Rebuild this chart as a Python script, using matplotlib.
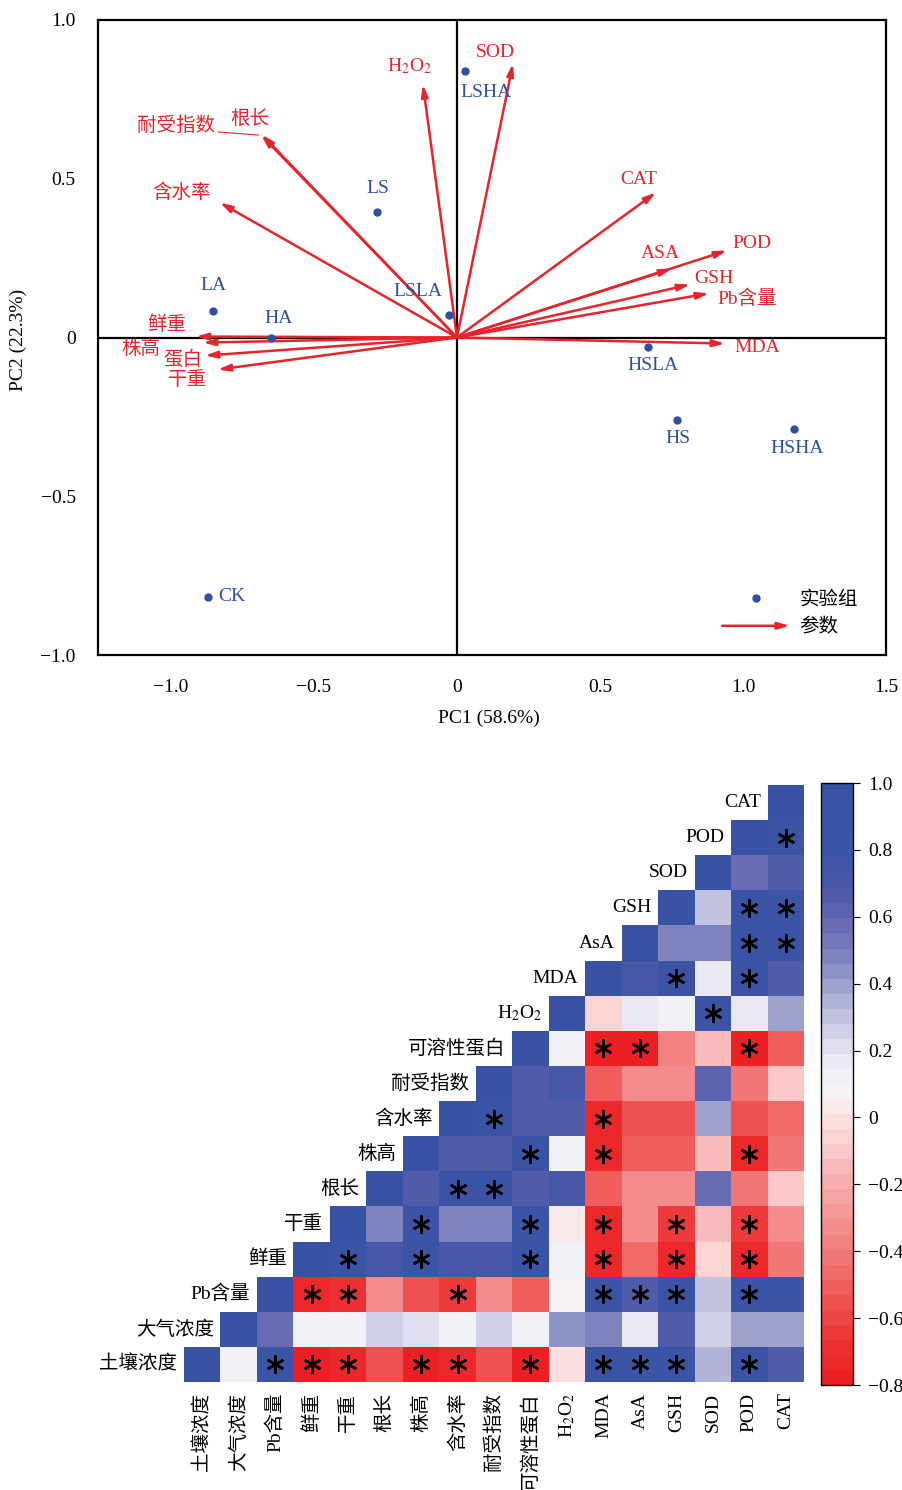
import numpy as np
import numpy.ma as ma
import matplotlib
matplotlib.use('Agg')
import matplotlib.pyplot as plt
from matplotlib.colors import LinearSegmentedColormap

plt.rcParams['font.family'] = ['Liberation Serif', 'Noto Sans CJK SC']
plt.rcParams['mathtext.fontset'] = 'stix'
plt.rcParams['axes.unicode_minus'] = True

# ---------------- PCA data ----------------
groups = ['LSHA', 'LS', 'LA', 'HA', 'LSLA', 'HSLA', 'HS', 'HSHA', 'CK']
pc1_scores = [0.028, -0.280, -0.853, -0.650, -0.028, 0.668, 0.769, 1.180, -0.871]
pc2_scores = [0.838, 0.394, 0.085, -0.003, 0.072, -0.031, -0.261, -0.287, -0.816]

params = ['H$_2$O$_2$', 'SOD', '根长', '耐受指数', '含水率', '鲜重', '株高', '蛋白', '干重',
          'CAT', 'POD', 'ASA', 'GSH', 'Pb含量', 'MDA']
pc1_loadings = [-0.119, 0.196, -0.682, -0.684, -0.829, -0.913, -0.888, -0.881, -0.836,
                0.696, 0.944, 0.752, 0.815, 0.881, 0.937]
pc2_loadings = [0.797, 0.863, 0.639, 0.637, 0.425, 0.003, -0.016, -0.057, -0.101,
                0.457, 0.274, 0.217, 0.167, 0.139, -0.019]

pc1_label = 'PC1 (58.6%)'
pc2_label = 'PC2 (22.3%)'

# ---------------- correlation data ----------------
hm_vars = ['土壤浓度', '大气浓度', 'Pb含量', '鲜重', '干重', '根长', '株高', '含水率', '耐受指数',
           '可溶性蛋白', 'H$_2$O$_2$', 'MDA', 'AsA', 'GSH', 'SOD', 'POD', 'CAT']
r_soil = [1, 0.10, 0.85, -0.80, -0.75, -0.55, -0.80, -0.72, -0.55, -0.82, 0.00, 0.88, 0.82, 0.78, 0.33, 0.90, 0.68]
r_air = [1, 0.55, 0.10, 0.10, 0.25, 0.20, 0.10, 0.25, 0.10, 0.42, 0.50, 0.18, 0.65, 0.27, 0.40, 0.40]
r_pb = [1, -0.72, -0.68, -0.35, -0.55, -0.65, -0.35, -0.50, 0.08, 0.90, 0.65, 0.90, 0.30, 0.90, 0.80]
r_fw = [1, 0.95, 0.70, 0.85, 0.70, 0.70, 0.85, 0.10, -0.75, -0.45, -0.72, -0.08, -0.72, -0.40]
r_dw = [1, 0.50, 0.85, 0.50, 0.50, 0.85, 0.02, -0.72, -0.35, -0.65, -0.15, -0.65, -0.35]
r_root = [1, 0.68, 0.90, 0.90, 0.65, 0.70, -0.50, -0.35, -0.35, 0.58, -0.42, -0.10]
r_height = [1, 0.65, 0.65, 0.85, 0.12, -0.75, -0.50, -0.50, -0.15, -0.72, -0.40]
r_water = [1, 0.90, 0.65, 0.65, -0.72, -0.55, -0.55, 0.40, -0.55, -0.45]
r_tol = [1, 0.65, 0.70, -0.50, -0.35, -0.35, 0.60, -0.42, -0.10]
r_prot = [1, 0.10, -0.78, -0.78, -0.38, -0.15, -0.78, -0.50]
r_h2o2 = [1, -0.08, 0.18, 0.10, 0.80, 0.18, 0.38]
r_mda = [1, 0.70, 0.88, 0.18, 0.88, 0.65]
r_asa = [1, 0.50, 0.50, 0.90, 0.88]
r_gsh = [1, 0.30, 0.88, 0.85]
r_sod = [1, 0.55, 0.68]
r_pod = [1, 0.90]
r_cat = [1]
corr_rows = [r_soil, r_air, r_pb, r_fw, r_dw, r_root, r_height, r_water, r_tol,
             r_prot, r_h2o2, r_mda, r_asa, r_gsh, r_sod, r_pod, r_cat]

# significant pairs (row index, column index)
sig_pairs = [(0, 2), (0, 3), (0, 4), (0, 6), (0, 7), (0, 9), (0, 11), (0, 12), (0, 13), (0, 15),
             (2, 3), (2, 4), (2, 7), (2, 11), (2, 12), (2, 13), (2, 15),
             (3, 4), (3, 6), (3, 9), (3, 11), (3, 13), (3, 15),
             (4, 6), (4, 9), (4, 11), (4, 13), (4, 15),
             (5, 7), (5, 8),
             (6, 9), (6, 11), (6, 15),
             (7, 8), (7, 11),
             (9, 11), (9, 12), (9, 15),
             (10, 14),
             (11, 13), (11, 15),
             (12, 15), (12, 16),
             (13, 15), (13, 16),
             (15, 16)]

cbar_ticks = [1.0, 0.8, 0.6, 0.4, 0.2, 0.0, -0.2, -0.4, -0.6, -0.8]

# ---------------- styles / layout ----------------
RED = '#E8232A'
BLUE = '#2F4FA2'
FS = 14
W, H = 903, 1490

# label offsets in pixels (dx, dy) relative to arrow tips / points
param_off = {'H$_2$O$_2$': (-13, 18), 'SOD': (-18, 11), '根长': (-12, 16), '耐受指数': (-85, 9),
             '含水率': (-38, 10), '鲜重': (-29, 12), '株高': (-62, -6), '蛋白': (-22, -4),
             '干重': (-30, -10), 'CAT': (-17, 13), 'POD': (25, 7), 'ASA': (-12, 15),
             'GSH': (24, 6), 'Pb含量': (38, -5), 'MDA': (32, -4)}
group_off = {'LSHA': (21, -21), 'LS': (1, 24), 'LA': (0, 25), 'HA': (8, 20), 'LSLA': (-31, 23),
             'HSLA': (5, -18), 'HS': (1, -18), 'HSHA': (3, -20), 'CK': (10, 0)}

fig = plt.figure(figsize=(W / 100, H / 100), dpi=100)

# ================= PCA biplot =================
ax = fig.add_axes([98 / W, 1 - 655 / H, (886 - 98) / W, (655 - 20) / H])
ax.set_xlim(-1.255, 1.5)
ax.set_ylim(-1.0, 1.0)
ax.axhline(0, color='black', lw=1.6, zorder=1)
ax.axvline(0, color='black', lw=1.6, zorder=1)
for s in ax.spines.values():
    s.set_linewidth(1.6)

for name, x, y in zip(params, pc1_loadings, pc2_loadings):
    ax.annotate('', xy=(x, y), xytext=(0, 0),
                arrowprops=dict(arrowstyle='-|>,head_length=0.7,head_width=0.2',
                                color=RED, lw=1.8, shrinkA=0, shrinkB=0), zorder=3)
    dx, dy = param_off[name]
    if name == '耐受指数':
        ax.annotate(name, xy=(x, y), xytext=(dx, dy), textcoords='offset pixels',
                    ha='center', va='center', color=RED, fontsize=FS,
                    arrowprops=dict(arrowstyle='-', color=RED, lw=0.8, shrinkA=0, shrinkB=2,
                                    relpos=(1.0, 0.2)))
    else:
        ax.annotate(name, xy=(x, y), xytext=(dx, dy), textcoords='offset pixels',
                    ha='center', va='center', color=RED, fontsize=FS)

ax.scatter(pc1_scores, pc2_scores, s=36, color=BLUE, zorder=4, linewidths=0)
for g, x, y in zip(groups, pc1_scores, pc2_scores):
    dx, dy = group_off[g]
    ax.annotate(g, xy=(x, y), xytext=(dx, dy), textcoords='offset pixels',
                ha='left' if g == 'CK' else 'center', va='center', color=BLUE, fontsize=FS,
                zorder=5)

ax.set_xticks([-1.0, -0.5, 0, 0.5, 1.0, 1.5])
ax.set_xticklabels(['\u22121.0', '\u22120.5', '0', '0.5', '1.0', '1.5'])
ax.set_yticks([-1.0, -0.5, 0, 0.5, 1.0])
ax.set_yticklabels(['\u22121.0', '\u22120.5', '0', '0.5', '1.0'])
ax.tick_params(length=0, labelsize=FS)
ax.tick_params(axis='x', pad=17)
ax.tick_params(axis='y', pad=16)

# legend
ax.scatter([0.835], [0.09], transform=ax.transAxes, s=36, color=BLUE, linewidths=0, clip_on=False)
ax.text(0.89, 0.087, '实验组', transform=ax.transAxes, ha='left', va='center', fontsize=FS)
ax.annotate('', xy=(0.878, 0.046), xytext=(0.792, 0.046), xycoords='axes fraction',
            textcoords='axes fraction',
            arrowprops=dict(arrowstyle='-|>,head_length=0.7,head_width=0.2', color=RED, lw=1.8,
                            shrinkA=0, shrinkB=0))
ax.text(0.89, 0.043, '参数', transform=ax.transAxes, ha='left', va='center', fontsize=FS)

fig.text(489 / W, 1 - 718 / H, pc1_label, ha='center', va='center', fontsize=FS)
fig.text(18 / W, 1 - 340 / H, pc2_label, ha='center', va='center', rotation=90, fontsize=FS)

# ================= correlation heatmap =================
cmap = LinearSegmentedColormap.from_list('rwb', [
    (0.000, '#EC2024'), (0.056, '#EC3232'), (0.111, '#EE4848'), (0.167, '#F06464'),
    (0.222, '#F27E7E'), (0.278, '#F49696'), (0.333, '#F7AEAE'), (0.389, '#FACACA'),
    (0.444, '#FCE4E4'), (0.500, '#F6F7FA'), (0.556, '#E2E2F0'), (0.611, '#C5C6E2'),
    (0.667, '#A0A2CE'), (0.722, '#7C7FBC'), (0.778, '#6468B0'), (0.833, '#4A58A8'),
    (0.889, '#3C54A5'), (1.000, '#3953A4')], N=40)

n = len(hm_vars)
M = np.full((n, n), np.nan)
for i, row in enumerate(corr_rows):
    M[i, i:] = row

hx0, hx1, hy0, hy1 = 184, 804, 785, 1382
hax = fig.add_axes([hx0 / W, 1 - hy1 / H, (hx1 - hx0) / W, (hy1 - hy0) / H])
mesh = hax.pcolormesh(np.arange(n + 1), np.arange(n + 1), ma.masked_invalid(M), cmap=cmap,
                      vmin=-0.8, vmax=1.0, edgecolors='none')
hax.set_xlim(0, n)
hax.set_ylim(0, n)
hax.axis('off')

for i, name in enumerate(hm_vars):
    hax.text(i - 0.18, i + 0.5, name, ha='right', va='center', fontsize=FS)
    hax.text(i + 0.5, -0.3, name, ha='center', va='top', rotation=90, fontsize=FS)

sx = [c + 0.5 for r, c in sig_pairs]
sy = [r + 0.5 for r, c in sig_pairs]
hax.plot(sx, sy, linestyle='none', marker=(6, 2, 0), ms=13, mew=1.8, color='black')

cax = fig.add_axes([821 / W, 1 - 1385 / H, 32 / W, (1385 - 783) / H])
cb = fig.colorbar(mesh, cax=cax)
cb.set_ticks(cbar_ticks)
cb.set_ticklabels(['0' if t == 0 else f'{t:.1f}'.replace('-', '\u2212') for t in cbar_ticks])
cb.outline.set_linewidth(1.0)
cax.tick_params(length=5, width=0.8, labelsize=FS, pad=6)

fig.savefig('out.png', dpi=100)
